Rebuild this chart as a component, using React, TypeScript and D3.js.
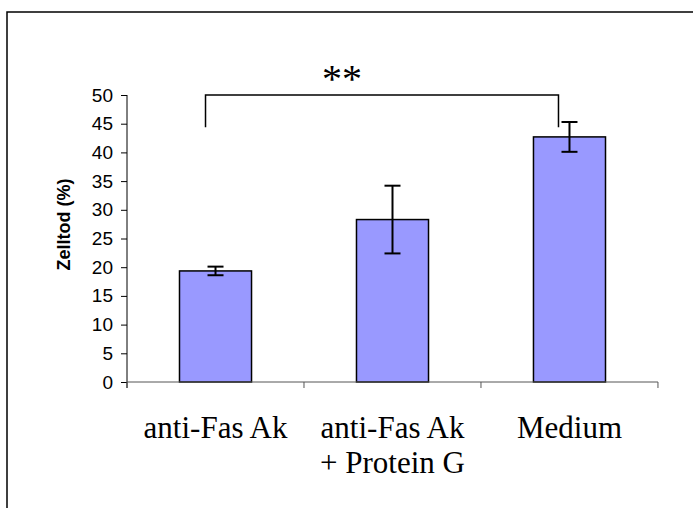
import * as d3 from "d3";
import { useRef, useEffect } from "react";

const categories = ["anti-Fas Ak", "anti-Fas Ak|+ Protein G", "Medium"];
const values = [19.35, 28.3, 42.7];
const errors = [0.75, 5.9, 2.6];
const yTicks = [0, 5, 10, 15, 20, 25, 30, 35, 40, 45, 50];
const bracket = { from: 0, to: 2, level: 50, drop: 44.4, label: "**" };

const serif = "'Liberation Serif', 'Times New Roman', serif";
const sans = "'Liberation Sans', Arial, sans-serif";

export default function App() {
  const width = 693;
  const height = 508;
  const marginTop = 95;
  const marginLeft = 127;
  const marginRight = 35;
  const marginBottom = 126;

  const gy = useRef<SVGGElement>(null);

  const x = d3
    .scaleBand()
    .domain(categories)
    .range([marginLeft, width - marginRight])
    .paddingInner(0.593)
    .paddingOuter(0.2966);

  const y = d3
    .scaleLinear()
    .domain([0, 50])
    .range([height - marginBottom, marginTop]);

  useEffect(() => {
    const g = d3.select(gy.current);
    g.call(
      d3.axisLeft(y).tickValues(yTicks).tickSize(6).tickSizeOuter(0).tickPadding(8)
    );
    g.attr("font-family", null).attr("font-size", null);
    g.select(".domain").remove();
    g.selectAll(".tick line").attr("stroke", "#000");
    g.selectAll(".tick text")
      .style("font-family", sans)
      .style("font-size", "19px")
      .attr("fill", "#000");
  }, [y]);

  const x0 = x.range()[0];
  const step = x.step();
  const bounds = d3.range(categories.length + 1).map((i) => x0 + i * step);
  const cx = (i: number) => (x(categories[i]) ?? 0) + x.bandwidth() / 2;
  const capW = 8;

  const bx1 = cx(bracket.from) - 10;
  const bx2 = cx(bracket.to) - 11;

  return (
    <svg
      width={width}
      height={height}
      style={{ position: "absolute", left: 0, top: 0, background: "#fff" }}
    >
      <path
        d={`M7,${height + 5}V12H${width + 5}`}
        fill="none"
        stroke="#000"
        strokeWidth={1.5}
      />
      <g ref={gy} transform={`translate(${marginLeft},0)`} />
      <line
        x1={marginLeft}
        x2={marginLeft}
        y1={y(50)}
        y2={y(0) + 6}
        stroke="#000"
        strokeWidth={1}
      />
      {values.map((v, i) => (
        <rect
          key={i}
          x={x(categories[i])}
          y={y(v)}
          width={x.bandwidth()}
          height={y(0) - y(v)}
          fill="#9999FF"
          stroke="#000"
          strokeWidth={1.5}
        />
      ))}
      <line
        x1={bounds[0]}
        x2={bounds[bounds.length - 1]}
        y1={y(0)}
        y2={y(0)}
        stroke="#555"
        strokeWidth={1}
      />
      {bounds.map((b, i) => (
        <line key={i} x1={b} x2={b} y1={y(0)} y2={y(0) + 6} stroke="#555" />
      ))}
      <g stroke="#000" strokeWidth={2}>
        {values.map((v, i) => {
          const c = cx(i);
          const hi = y(v + errors[i]);
          const lo = y(v - errors[i]);
          return (
            <g key={i}>
              <line x1={c} x2={c} y1={hi} y2={lo} />
              <line x1={c - capW} x2={c + capW} y1={hi} y2={hi} />
              <line x1={c - capW} x2={c + capW} y1={lo} y2={lo} />
            </g>
          );
        })}
      </g>
      <path
        d={`M${bx1},${y(bracket.drop)}V${y(bracket.level)}H${bx2}V${y(bracket.drop)}`}
        fill="none"
        stroke="#000"
        strokeWidth={1.5}
      />
      <text
        x={(bx1 + bx2) / 2 - 40}
        y={y(bracket.level) - 3}
        textAnchor="middle"
        style={{ fontFamily: serif, fontSize: "40px" }}
      >
        {bracket.label}
      </text>
      {categories.map((c, i) => (
        <text
          key={c}
          x={cx(i)}
          y={y(0) + 56}
          textAnchor="middle"
          fill="#000"
          style={{ fontFamily: serif, fontSize: "31px" }}
        >
          {c.split("|").map((line, j) => (
            <tspan key={j} x={cx(i)} dy={j === 0 ? 0 : 35}>
              {line}
            </tspan>
          ))}
        </text>
      ))}
      <text
        transform={`translate(70,${(y(0) + y(50)) / 2 - 14}) rotate(-90)`}
        textAnchor="middle"
        style={{ fontFamily: sans, fontWeight: "bold", fontSize: "18px" }}
      >
        Zelltod (%)
      </text>
    </svg>
  );
}
